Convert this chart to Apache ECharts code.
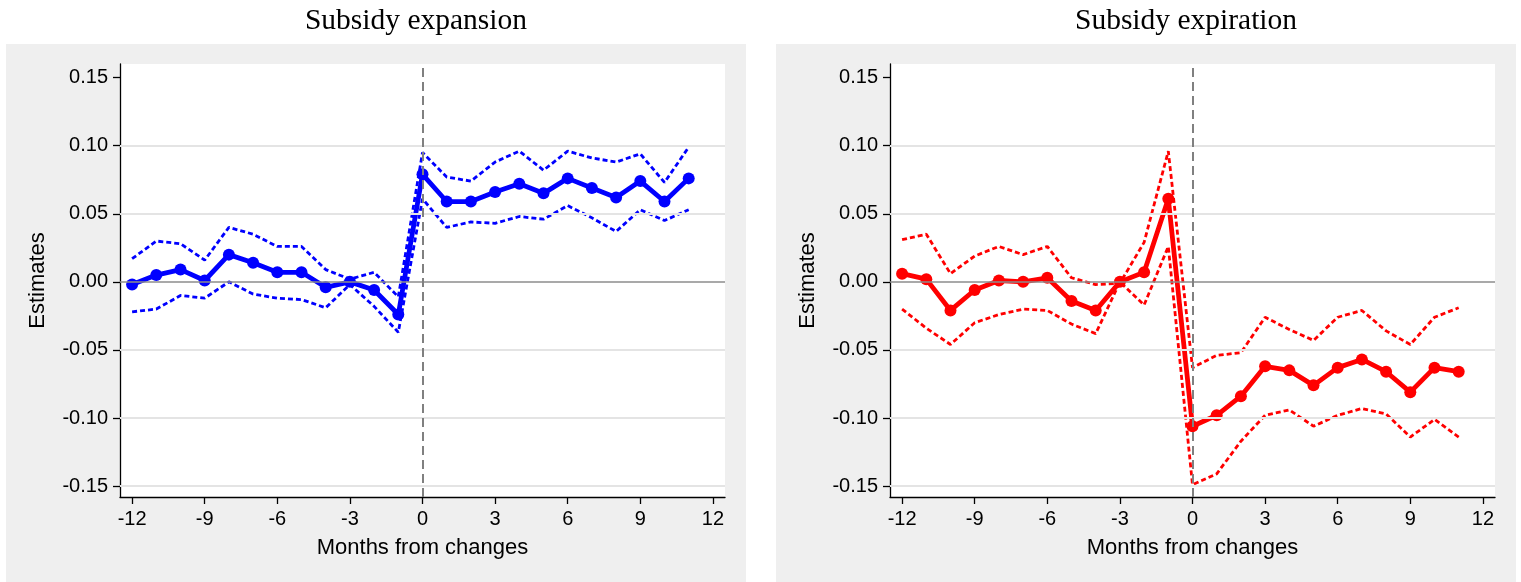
<!DOCTYPE html>
<html>
<head>
<meta charset="utf-8">
<script src="https://cdn.jsdelivr.net/npm/echarts@6/dist/echarts.min.js"></script>
<style>
  html, body { margin: 0; padding: 0; background: #ffffff; }
  #chart { width: 1521px; height: 582px; }
</style>
</head>
<body>
<div id="chart"></div>
<script>
// Event-study estimates around subsidy changes, months -12 .. 11
const months = [-12, -11, -10, -9, -8, -7, -6, -5, -4, -3, -2, -1, 0, 1, 2, 3, 4, 5, 6, 7, 8, 9, 10, 11];

const expansionEst = [-0.002, 0.005, 0.009, 0.001, 0.020, 0.014, 0.007, 0.007, -0.004, 0.000, -0.006, -0.024,
                      0.079, 0.059, 0.059, 0.066, 0.072, 0.065, 0.076, 0.069, 0.062, 0.074, 0.059, 0.076];
const expansionHi  = [0.017, 0.030, 0.028, 0.016, 0.040, 0.035, 0.026, 0.026, 0.009, 0.002, 0.007, -0.011,
                      0.095, 0.077, 0.074, 0.088, 0.096, 0.082, 0.096, 0.091, 0.088, 0.094, 0.073, 0.099];
const expansionLo  = [-0.022, -0.020, -0.010, -0.012, 0.000, -0.009, -0.012, -0.013, -0.019, -0.002, -0.018, -0.037,
                      0.061, 0.040, 0.044, 0.043, 0.048, 0.046, 0.056, 0.047, 0.037, 0.053, 0.045, 0.053];

const expirationEst = [0.006, 0.002, -0.021, -0.006, 0.001, 0.000, 0.003, -0.014, -0.021, 0.000, 0.007, 0.061,
                       -0.106, -0.098, -0.084, -0.062, -0.065, -0.076, -0.063, -0.057, -0.066, -0.081, -0.063, -0.066];
const expirationHi  = [0.031, 0.035, 0.006, 0.019, 0.026, 0.020, 0.026, 0.003, -0.002, -0.001, 0.029, 0.096,
                       -0.063, -0.054, -0.052, -0.026, -0.035, -0.043, -0.026, -0.021, -0.036, -0.046, -0.026, -0.019];
const expirationLo  = [-0.020, -0.034, -0.046, -0.030, -0.024, -0.020, -0.021, -0.031, -0.038, 0.000, -0.017, 0.026,
                       -0.149, -0.141, -0.117, -0.098, -0.094, -0.106, -0.098, -0.093, -0.097, -0.114, -0.101, -0.114];

const yTicks = [-0.15, -0.10, -0.05, 0.00, 0.05, 0.10, 0.15];
const gridValues = [-0.15, -0.10, -0.05, 0.05, 0.10];
const xTicks = [-12, -9, -6, -3, 0, 3, 6, 9, 12];

const panelTitles = ['Subsidy expansion', 'Subsidy expiration'];
const yName = 'Estimates';
const xName = 'Months from changes';

const BLUE = '#0000ff';
const RED = '#ff0000';
const LABEL_FONT = 'Liberation Sans, Arial, sans-serif';

const pairs = (ys) => months.map((m, i) => [m, ys[i]]);

const panels = [
  { left: 120, color: BLUE, est: expansionEst, hi: expansionHi, lo: expansionLo, bgX: 6, titleX: 416 },
  { left: 890, color: RED, est: expirationEst, hi: expirationHi, lo: expirationLo, bgX: 776, titleX: 1186 }
];

const grid = panels.map(p => ({
  left: p.left, width: 605, top: 64, height: 433,
  show: true, backgroundColor: '#ffffff', borderWidth: 0
}));

const xAxis = panels.map((p, i) => ({
  type: 'value', gridIndex: i, min: -12.5, max: 12.5,
  name: xName, nameLocation: 'middle', nameGap: 40,
  nameTextStyle: { fontFamily: LABEL_FONT, fontSize: 22, color: '#000' },
  axisLine: { show: true, onZero: false, lineStyle: { color: '#000', width: 1.3 } },
  axisTick: { show: true, inside: false, length: 7, customValues: xTicks, lineStyle: { color: '#000', width: 1.3 } },
  axisLabel: { customValues: xTicks, fontFamily: LABEL_FONT, fontSize: 20, color: '#000', margin: 12 },
  splitLine: { show: false }
}));

const yAxis = panels.map((p, i) => ({
  type: 'value', gridIndex: i, min: -0.158, max: 0.16,
  name: yName, nameLocation: 'middle', nameGap: 71, nameRotate: 90,
  nameTextStyle: { fontFamily: LABEL_FONT, fontSize: 22, color: '#000' },
  axisLine: { show: true, onZero: false, lineStyle: { color: '#000', width: 1.3 } },
  axisTick: { show: true, inside: false, length: 7, customValues: yTicks, lineStyle: { color: '#000', width: 1.3 } },
  axisLabel: { customValues: yTicks, fontFamily: LABEL_FONT, fontSize: 20, color: '#000', margin: 12,
               formatter: v => v.toFixed(2) },
  splitLine: { show: false }
}));

const series = [];
panels.forEach((p, i) => {
  // reference lines: light grid, zero line, dashed event line
  series.push({
    type: 'line', xAxisIndex: i, yAxisIndex: i, data: [], silent: true, z: 1,
    markLine: {
      silent: true, symbol: 'none', animation: false, label: { show: false },
      data: [
        ...gridValues.map(v => ({ yAxis: v, lineStyle: { color: '#e4e4e4', width: 2, type: 'solid' } })),
        { yAxis: 0, lineStyle: { color: '#8c8c8c', width: 1.5, type: 'solid' } },
        { xAxis: 0, lineStyle: { color: '#808080', width: 2, type: [9, 5] } }
      ]
    }
  });
  [p.hi, p.lo].forEach(ci => {
    series.push({
      type: 'line', xAxisIndex: i, yAxisIndex: i, data: pairs(ci), z: 3,
      showSymbol: false, symbol: 'none', silent: true,
      lineStyle: { color: p.color, width: 2.8, type: [5, 3] }
    });
  });
  series.push({
    type: 'line', xAxisIndex: i, yAxisIndex: i, data: pairs(p.est), z: 4,
    symbol: 'circle', symbolSize: 12, showSymbol: true,
    itemStyle: { color: p.color },
    lineStyle: { color: p.color, width: 4.8 }
  });
});

const graphic = [];
panels.forEach((p, i) => {
  graphic.push({
    type: 'rect', z: -10, silent: true,
    shape: { x: p.bgX, y: 44, width: 740, height: 538 },
    style: { fill: '#efefef' }
  });
  graphic.push({
    type: 'text', z: 10, silent: true,
    x: p.titleX, y: 21,
    style: {
      text: panelTitles[i], align: 'center', verticalAlign: 'middle',
      font: '29.5px "Liberation Serif", "Times New Roman", serif', fill: '#000'
    }
  });
});

const chart = echarts.init(document.getElementById('chart'), null, { renderer: 'canvas' });
chart.setOption({
  animation: false,
  backgroundColor: '#ffffff',
  graphic, grid, xAxis, yAxis, series
});
</script>
</body>
</html>
